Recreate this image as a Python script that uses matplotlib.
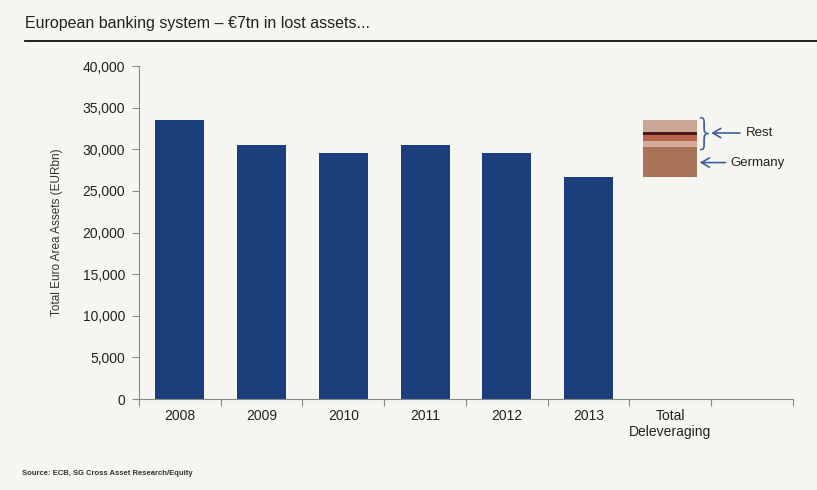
import numpy as np
import matplotlib
matplotlib.use('Agg')
import matplotlib.pyplot as plt
from matplotlib.lines import Line2D
from matplotlib.ticker import FuncFormatter

plt.rcParams['font.family'] = ['Liberation Sans', 'DejaVu Sans']

# data (EUR bn)
years = ['2008', '2009', '2010', '2011', '2012', '2013']
assets = [33500, 30500, 29600, 30500, 29600, 26700]
total_label = 'Total\nDeleveraging'
# deleveraging split, stacked from the 2013 level up
delev_parts = [3600, 700, 700, 350, 1450]
delev_colors = ['#a97358', '#d4ab9b', '#b9664b', '#4a1a18', '#cba596']

bg = '#f6f5f2'
navy = '#1c3f7c'
arrow_col = '#3d5f96'

fig = plt.figure(figsize=(8.17, 4.9), dpi=100, facecolor=bg)
ax = fig.add_axes([0.170, 0.1857, 0.8006, 0.6796], facecolor=bg)

x = np.arange(len(years))
ax.bar(x, assets, width=0.6, color=navy, zorder=2)

# floating stacked bar for the total deleveraging
pos = len(years)
bottom = assets[-1]
for val, col in zip(delev_parts, delev_colors):
    ax.bar(pos, val, bottom=bottom, width=0.66, color=col, zorder=2)
    bottom += val

ax.set_xlim(-0.5, len(years) + 1.5)
ax.set_ylim(0, 40000)
ax.set_yticks(np.arange(0, 40001, 5000))
ax.yaxis.set_major_formatter(FuncFormatter(lambda v, p: '{:,.0f}'.format(v)))

# ticks on category boundaries, labels at centres
ax.set_xticks(np.arange(-0.5, len(years) + 2, 1.0))
ax.set_xticklabels([])
ax.set_xticks(np.arange(len(years) + 1), minor=True)
ax.set_xticklabels(years + [total_label], minor=True, fontsize=10, color='#222222')
ax.tick_params(axis='x', which='minor', length=0, pad=7)
ax.tick_params(axis='x', which='major', length=5, color='#888888', direction='out')
ax.tick_params(axis='y', length=5, color='#888888', labelsize=10, labelcolor='#222222', pad=5)

for s in ['top', 'right']:
    ax.spines[s].set_visible(False)
for s in ['left', 'bottom']:
    ax.spines[s].set_color('#888888')

ax.set_ylabel('Total Euro Area Assets (EURbn)', fontsize=8.5, color='#333333', labelpad=14)

# bracket + arrows for legend of the stacked bar
ax.text(6.41, 31900, '}', fontsize=25, color=arrow_col, va='center', ha='center',
        family='DejaVu Sans', fontweight='light')
ax.annotate('Rest', xy=(6.50, 31950), xytext=(6.92, 31950), fontsize=9.5, color='#222222',
            va='center', ha='left',
            arrowprops=dict(arrowstyle='->,head_length=0.6,head_width=0.35',
                            color=arrow_col, lw=1.2, shrinkA=2, shrinkB=0))
ax.annotate('Germany', xy=(6.36, 28400), xytext=(6.74, 28400), fontsize=9.5, color='#222222',
            va='center', ha='left',
            arrowprops=dict(arrowstyle='->,head_length=0.6,head_width=0.35',
                            color=arrow_col, lw=1.2, shrinkA=2, shrinkB=0))

fig.text(0.031, 0.953, 'European banking system \u2013 \u20ac7tn in lost assets...',
         fontsize=11.5, color='#222222', va='center')
fig.add_artist(Line2D([0.031, 1.0], [0.916, 0.916], color='#111111', lw=1.3))
fig.text(0.027, 0.033, 'Source: ECB, SG Cross Asset Research/Equity', fontsize=5.5,
         color='#333333', fontweight='bold', va='center')

plt.savefig('out.png', dpi=100, facecolor=bg)
